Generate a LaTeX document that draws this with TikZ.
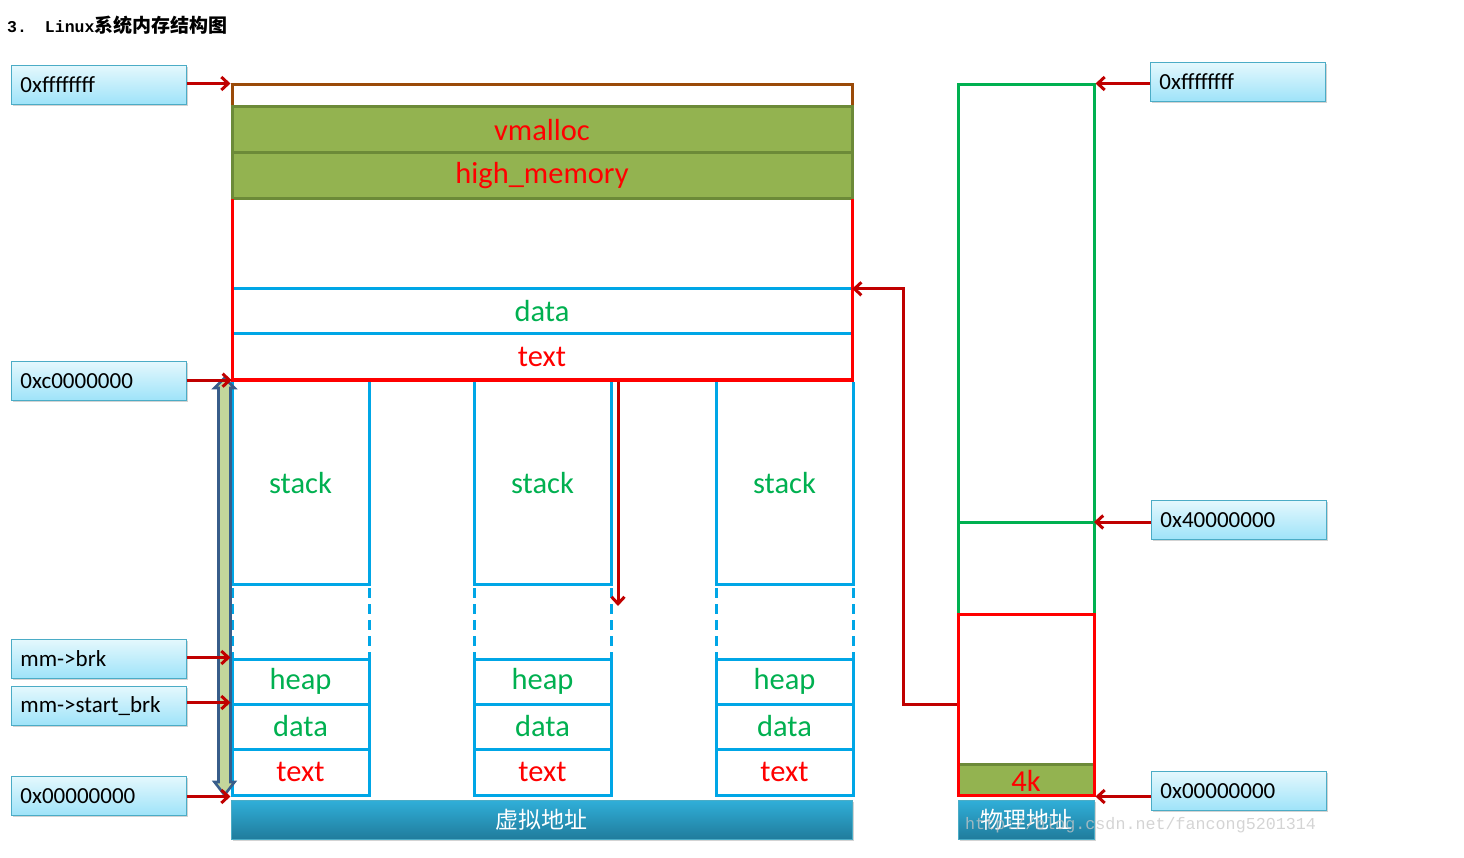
\documentclass[tikz,border=0pt]{standalone}
\usepackage{fontspec}
\setmainfont{Carlito}
\newfontfamily\cjk{Noto Sans CJK SC}
\newfontfamily\ttl{Liberation Mono}
\usetikzlibrary{arrows.meta,shadows}
\definecolor{cred}{HTML}{FF0000}
\definecolor{dred}{HTML}{C00000}
\definecolor{cblue}{HTML}{00A6E6}
\definecolor{cgreen}{HTML}{00B050}
\definecolor{olive}{HTML}{93B350}
\definecolor{olivedark}{HTML}{6C8A38}
\definecolor{cbrown}{HTML}{9A4A08}
\definecolor{lbltop}{HTML}{E4F8FD}
\definecolor{lblbot}{HTML}{9EE3F9}
\definecolor{lblb}{HTML}{4BACC6}
\definecolor{bartop}{HTML}{30AFD9}
\definecolor{barbot}{HTML}{207C9C}
\definecolor{afill}{HTML}{C3D69B}
\definecolor{aborder}{HTML}{385D8A}
\begin{document}
\begin{tikzpicture}[x=1pt,y=-1pt,
  lbl/.style={draw=lblb, line width=0.9pt, top color=lbltop, bottom color=lblbot,
    drop shadow={shadow xshift=1.5pt, shadow yshift=-1.5pt, opacity=0.35},
    minimum height=39pt, text width=157pt, inner xsep=9pt, align=left,
    font=\fontsize{23}{27}\selectfont, anchor=north west},
  bigtxt/.style={font=\fontsize{30.5}{36}\selectfont},
  redarr/.style={draw=dred, line width=3pt, -{Straight Barb[length=7pt,width=13pt]}},
  olivebox/.style={fill=olive, draw=olivedark, line width=3pt, minimum width=620pt,
    minimum height=46pt, inner sep=0pt, text=cred, bigtxt},
  cbox/.style={draw=cblue, line width=3pt, minimum width=137pt, minimum height=45pt,
    inner sep=0pt, bigtxt},
  bline/.style={draw=cblue, line width=3pt},
  bar/.style={top color=bartop, bottom color=barbot, draw=lblb, line width=0.6pt,
    minimum height=39pt, inner sep=0pt, text=white, font=\cjk\fontsize{23}{28}\selectfont,
    drop shadow={shadow xshift=1.5pt, shadow yshift=-1.5pt, opacity=0.35}}]
\useasboundingbox (0,0) rectangle (1464,858);

% title
\node[anchor=base west, inner sep=0pt, font=\ttl\bfseries\fontsize{16.5}{20}\selectfont] (title) at (7,33)
  {3.\hspace{18pt}Linux{\cjk\bfseries\fontsize{19}{22}\selectfont 系统内存结构图}};

% ---------- virtual memory ----------
\node[draw=cbrown, line width=3pt, minimum width=620pt, minimum height=22pt, inner sep=0pt] (top) at (542,96) {};
\node[olivebox] (vm) at (542,130) {vmalloc};
\node[olivebox] (hm) at (542,176) {high\_memory};
\draw[bline] (232,289) -- (852,289) (232,334) -- (852,334);
\node[inner sep=0pt, minimum width=620pt, minimum height=45pt, text=cgreen, bigtxt] (kdata) at (542,311.5) {data};
\node[inner sep=0pt, minimum width=620pt, minimum height=46pt, text=cred, bigtxt] (ktext) at (542,357) {text};
\draw[cred, line width=3pt] (232,199) -- (232,380) -- (852,380) -- (852,199);

\foreach \x/\n in {232/a,474/b,716/c}{
  \draw[bline] (\x,381.5) -- (\x,584) -- (\x+137,584) -- (\x+137,381.5);
  \node[text=cgreen, bigtxt] (stack\n) at (\x+68.5,483) {stack};
  \draw[bline, dash pattern=on 10pt off 6pt] (\x,588) -- (\x,659) (\x+137,588) -- (\x+137,659);
  \node[cbox, text=cgreen] (heap\n) at (\x+68.5,681.5) {heap};
  \node[cbox, text=cgreen] (data\n) at (\x+68.5,726.5) {data};
  \node[cbox, text=cred, minimum height=46pt] (text\n) at (\x+68.5,772) {text};
}

% double block arrow
\draw[fill=afill, draw=aborder, line width=2.6pt, line join=miter]
  (224.5,378) -- (234.5,388) -- (230.5,388) -- (230.5,782) -- (234.5,782) -- (224.5,795)
  -- (214.5,782) -- (218.5,782) -- (218.5,388) -- (214.5,388) -- cycle;

% left labels
\node[lbl] (L1) at (11,65) {0xffffffff};
\node[lbl] (L2) at (11,361) {0xc0000000};
\node[lbl] (L3) at (11,639) {mm->brk};
\node[lbl] (L4) at (11,686) {mm->start\_brk};
\node[lbl] (L5) at (11,776) {0x00000000};

\draw[redarr] (L1.east |- top.north) -- (top.north west);
\draw[redarr] (L2.east |- ktext.south) -- (ktext.south west);
\draw[redarr] (L3.east |- heapa.north) -- (heapa.north west);
\draw[redarr] (L4.east |- dataa.north) -- (dataa.north west);
\draw[redarr] (L5.east |- texta.south) -- (texta.south west);

\coordinate (mtop) at (618,381.5);
\coordinate (mbot) at (618,606);
\draw[redarr] (mtop) -- (mbot);

% ---------- physical memory ----------
\node[draw=cgreen, line width=3pt, minimum width=136pt, minimum height=529pt, inner sep=0pt] (pg) at (1026,349.5) {};
\coordinate (p40l) at (958,522);
\coordinate (p40) at (1094,522);
\draw[cgreen, line width=3pt] (p40l) -- (p40);
\node[fill=olive, minimum width=136pt, minimum height=30pt, inner sep=0pt] (p4k) at (1026,780) {};
\draw[olivedark, line width=3pt] (p4k.north west) -- (p4k.north east);
\node[draw=cred, line width=3pt, minimum width=136pt, minimum height=181pt, inner sep=0pt] (pred) at (1026,704.5) {};
\node[text=cred, bigtxt, inner sep=0pt] (k4) at (1026,781) {4k};

\node[lbl] (R1) at (1150,62) {0xffffffff};
\node[lbl] (R2) at (1151,500) {0x40000000};
\node[lbl] (R3) at (1151,771) {0x00000000};

\draw[redarr] (R1.west |- pg.north) -- (pg.north east);
\draw[redarr] (R2.west |- p40) -- (p40);
\draw[redarr] (R3.west |- pred.south) -- (pred.south east);

\draw[redarr] (pred.west) -- ++(-53,0) |- (kdata.north east);

% bars
\node[bar, minimum width=621pt] (vbar) at (541.5,819.5) {虚拟地址};
\node[bar, minimum width=136pt] (pbar) at (1026,819.5) {物理地址};

\node[anchor=base west, inner sep=0pt, text=gray!45, opacity=0.75,
  font=\ttl\fontsize{16.7}{20}\selectfont] (wm) at (965,829) {http://blog.csdn.net/fancong5201314};
\end{tikzpicture}
\end{document}
